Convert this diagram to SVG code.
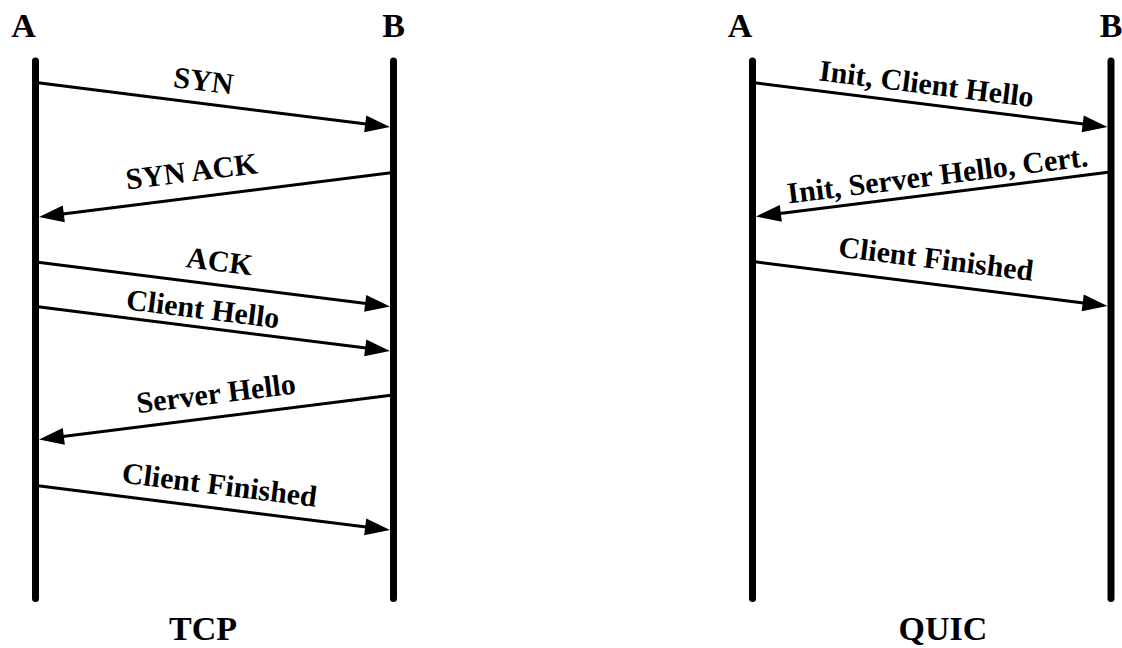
<svg xmlns="http://www.w3.org/2000/svg" width="1122" height="648" viewBox="0 0 1122 648">
  <style>
    .life { stroke: #000; stroke-width: 7; stroke-linecap: round; fill: none; }
    .msg { stroke: #000; stroke-width: 3; fill: none; marker-end: url(#head); }
    .hdr { font-family: "Liberation Serif", "Times New Roman", serif; font-weight: bold; font-size: 34px; text-anchor: middle; fill: #000; }
    .lbl { font-family: "Liberation Serif", "Times New Roman", serif; font-weight: bold; font-size: 30px; text-anchor: middle; fill: #000; }
  </style>
  <defs>
    <marker id="head" markerUnits="userSpaceOnUse" markerWidth="26" markerHeight="18" refX="5" refY="8.5" orient="auto" overflow="visible">
      <path d="M0,0 L25,8.5 L0,17 Z" fill="#000"/>
    </marker>
  </defs>
  <rect width="1122" height="648" fill="#fff"/>

  <!-- TCP handshake -->
  <g id="tcp-a">
    <line class="life" x1="35.5" y1="61" x2="35.5" y2="598.5"/>
    <text class="hdr" x="23.5" y="37">A</text>
  </g>
  <g id="tcp-b">
    <line class="life" x1="393.5" y1="61" x2="393.5" y2="598.5"/>
    <text class="hdr" x="393.5" y="37">B</text>
  </g>
  <text class="hdr" x="203" y="640">TCP</text>

  <!-- QUIC handshake -->
  <g id="quic-a">
    <line class="life" x1="752.5" y1="61" x2="752.5" y2="598.5"/>
    <text class="hdr" x="740" y="37">A</text>
  </g>
  <g id="quic-b">
    <line class="life" x1="1111" y1="61" x2="1111" y2="598.5"/>
    <text class="hdr" x="1111" y="37">B</text>
  </g>
  <text class="hdr" x="943" y="640">QUIC</text>

  <g id="connectors">
    <!-- TCP messages -->
    <path class="msg" d="M36,82.6 L370.16,124.51"/>
    <path class="msg" d="M393,172.6 L58.84,214.51"/>
    <path class="msg" d="M36,262.1 L370.16,304.01"/>
    <path class="msg" d="M36,306.6 L370.16,348.51"/>
    <path class="msg" d="M393,395.1 L58.84,437.01"/>
    <path class="msg" d="M36,485.6 L370.16,527.51"/>
    <!-- QUIC messages -->
    <path class="msg" d="M753,82.6 L1087.66,124.51"/>
    <path class="msg" d="M1110,172.1 L775.84,214.01"/>
    <path class="msg" d="M753,261.6 L1087.66,303.51"/>

    <g transform="translate(203.5 81) rotate(7.125)"><text class="lbl" y="9.8">SYN</text></g>
    <g transform="translate(191.5 171.5) rotate(-7.125)"><text class="lbl" y="9.8">SYN ACK</text></g>
    <g transform="translate(219.5 261.5) rotate(7.125)"><text class="lbl" y="9.8">ACK</text></g>
    <g transform="translate(203 309) rotate(7.125)"><text class="lbl" y="9.8">Client Hello</text></g>
    <g transform="translate(216 393.5) rotate(-7.125)"><text class="lbl" y="9.8">Server Hello</text></g>
    <g transform="translate(219.5 485) rotate(7.125)"><text class="lbl" y="9.8">Client Finished</text></g>

    <g transform="translate(926.5 84) rotate(7.125)"><text class="lbl" y="9.8">Init, Client Hello</text></g>
    <g transform="translate(937.5 175) rotate(-7.125)"><text class="lbl" y="9.8">Init, Server Hello, Cert.</text></g>
    <g transform="translate(936 259) rotate(7.125)"><text class="lbl" y="9.8">Client Finished</text></g>
  </g>
</svg>
